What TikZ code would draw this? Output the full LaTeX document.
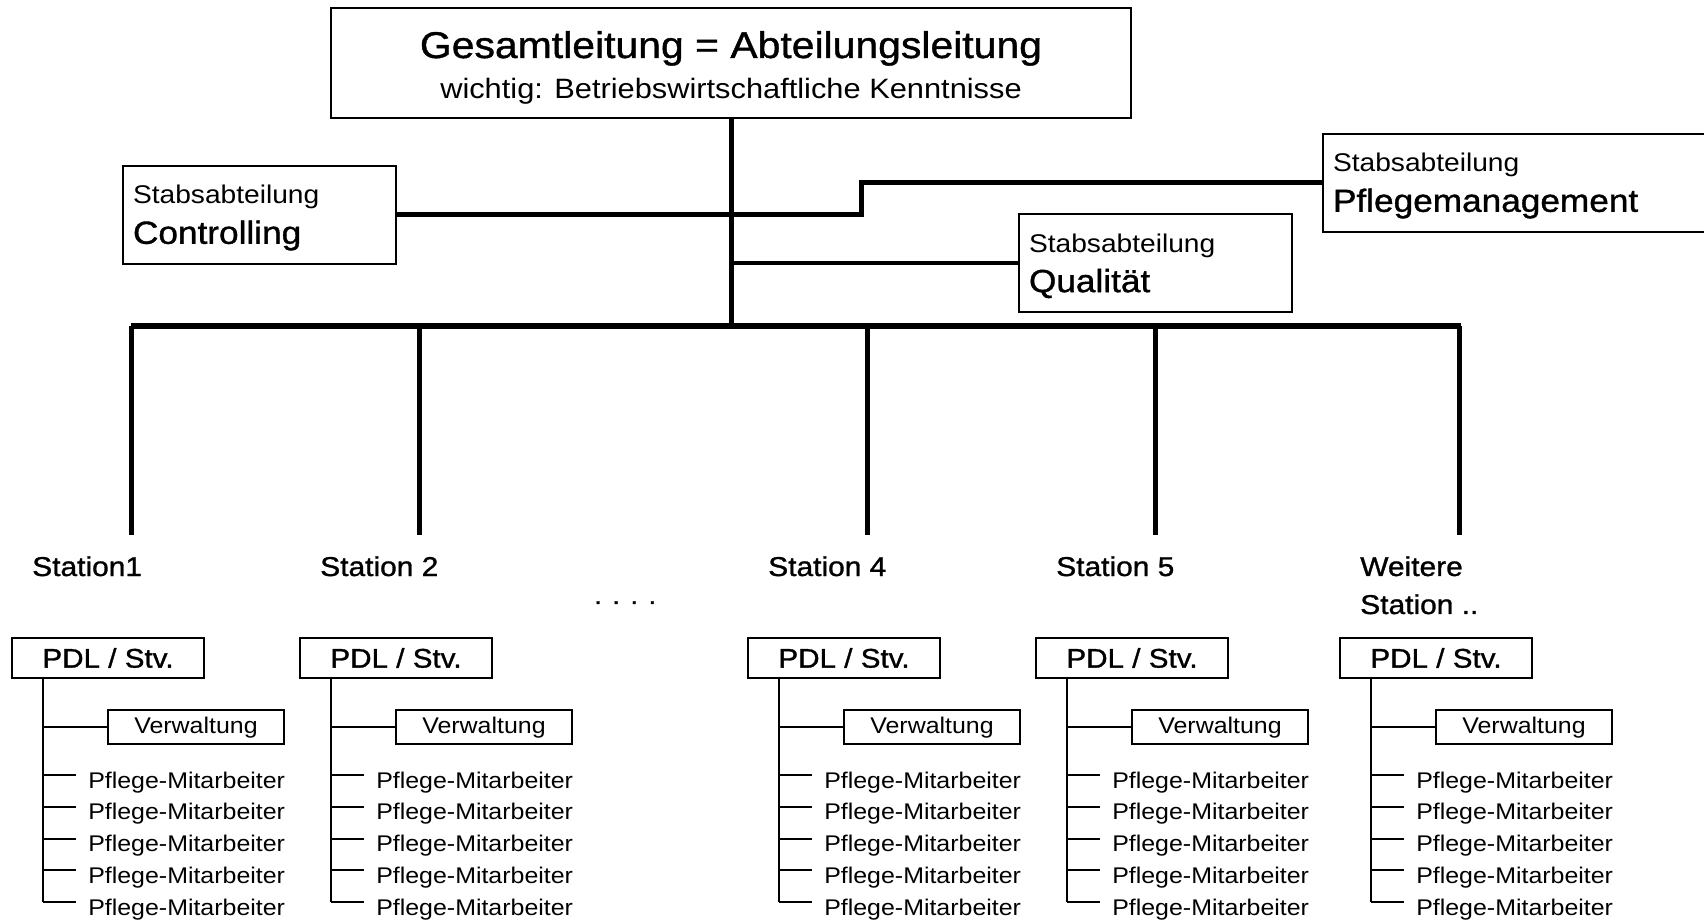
\documentclass[tikz,border=0pt]{standalone}
\usepackage{fontspec}
\setmainfont{Liberation Sans}[FakeStretch=1.1]
\newfontfamily\medfont{Liberation Sans}[FakeStretch=1.1,FakeBold=1.1]

\begin{document}
\begin{tikzpicture}[
    x=0.75pt, y=-0.75pt,
    frame/.style={draw, line width=1.5pt, inner sep=0pt, outer sep=0pt},
    headbox/.style={frame, minimum width=600pt, minimum height=82.5pt},
    stabbox/.style={frame, anchor=north west, minimum width=#1, minimum height=73.5pt,
                    inner xsep=7.5pt, text width=#1-15pt, align=left,
                    font=\fontsize{19.2}{30}\selectfont,
                    execute at begin node=\rule{0pt}{18.2pt}},
    pdlbox/.style={frame, anchor=north west, minimum width=144pt, minimum height=30pt,
                   font=\medfont\fontsize{20.2}{24}\selectfont},
    verwbox/.style={frame, anchor=north west, minimum width=132pt, minimum height=25.8pt,
                    font=\fontsize{17}{20}\selectfont},
    staff/.style={anchor=west, inner sep=0pt, text height=19.5pt, text depth=0pt,
                  font=\fontsize{17}{20}\selectfont},
    stationlabel/.style={anchor=base west, align=left, inner sep=0pt,
                         font=\medfont\fontsize{20.4}{28.5}\selectfont},
    bus/.style={line width=4.5pt},
    branch/.style={line width=3.75pt},
    stabline/.style={line width=3pt},
    twig/.style={line width=1.5pt},
  ]
  \useasboundingbox (0,0) rectangle (1704,923);
  \clip (0,0) rectangle (1704,923);

  % head of the department
  \node[headbox] (head) at (731,63.5) {};
  \node[anchor=base, inner sep=0pt, font=\medfont\fontsize{27.9}{30}\selectfont]
    (headtitle) at (731,58) {Gesamtleitung = Abteilungsleitung};
  \node[anchor=base, inner sep=0pt, font=\fontsize{21}{24}\selectfont]
    (headsub) at (731,99) {wichtig: Betriebswirtschaftliche Kenntnisse};

  % staff units
  \node[stabbox=204.75pt] (ctrl) at (123,166)
    {Stabsabteilung\\{\medfont\fontsize{24}{30}\selectfont Controlling}};
  \node[stabbox=204.75pt] (qual) at (1019,214)
    {Stabsabteilung\\{\medfont\fontsize{24}{30}\selectfont Qualität}};
  \node[stabbox=297.75pt] (pflege) at (1323,134)
    {Stabsabteilung\\{\medfont\fontsize{24}{30}\selectfont Pflegemanagement}};

  \coordinate (busL) at (131,326);
  \coordinate (busR) at (1461,326);

  \draw[branch] (head.south) -- (head.south |- busL);
  \draw[branch] (ctrl.east) -- ++(465,0) |- (pflege.west);
  \draw[stabline] (head.south |- qual.west) -- (qual.west);
  \draw[bus] (busL) -- (busR);

  \node[stationlabel, font=\medfont\fontsize{19}{24}\selectfont] (dots) at (594,604) {. . . .};

  % wards
  \foreach \b/\ly/\col/\lab in {12/576/s1/Station1, 300/576/s2/Station 2, 748/576/s4/Station 4,
                                1036/576/s5/Station 5, 1340/614/s6/{Weitere\\Station ..}} {
    \coordinate (drop\col) at (\b+119,326);
    \draw[branch] (drop\col) -- ++(0,209);
    \node[stationlabel] (lab\col) at (\b+20,\ly) {\lab};
    \node[pdlbox] (pdl\col) at (\b,638) {PDL / Stv.};
    \coordinate (stem\col) at ([xshift=23.25pt]pdl\col.south west);
    \node[verwbox] (verw\col) at (\b+96,710) {Verwaltung};
    \draw[twig] (stem\col |- verw\col.west) -- (verw\col.west);
    \foreach \k in {0,...,4} {
      \node[staff] (pm\col\k) at (\b+76,775+31.75*\k) {Pflege-Mitarbeiter};
      \draw[twig] (stem\col |- pm\col\k.west) -- ([xshift=-9pt]pm\col\k.west);
    }
    \draw[twig] (stem\col) -- (stem\col |- pm\col4.west);
  }
\end{tikzpicture}
\end{document}
